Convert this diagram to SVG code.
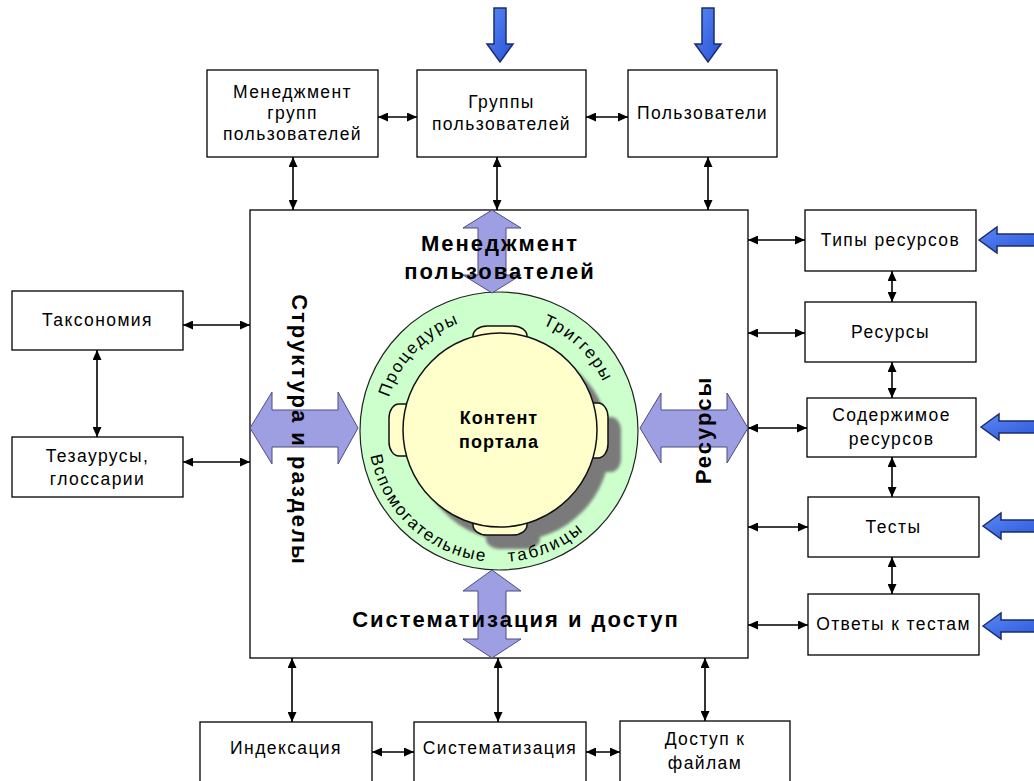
<svg xmlns="http://www.w3.org/2000/svg" width="1034" height="781" viewBox="0 0 1034 781">
  <defs>
    <style>
      .box { fill: #ffffff; stroke: #000000; stroke-width: 1.3; }
      .lbl { font-family: "Liberation Sans", Arial, sans-serif; font-size: 17.5px; letter-spacing: 1.4px; text-anchor: middle; fill: #000000; }
      .big { font-family: "Liberation Sans", Arial, sans-serif; font-size: 22px; font-weight: bold; letter-spacing: 2px; text-anchor: middle; fill: #000000; }
      .core { font-family: "Liberation Sans", Arial, sans-serif; font-size: 18px; font-weight: bold; letter-spacing: 1px; text-anchor: middle; fill: #000000; }
      .ring { font-family: "Liberation Sans", Arial, sans-serif; font-size: 17px; fill: #000000; }
      .conn { stroke: #000000; stroke-width: 1.6; fill: none; marker-start: url(#tip); marker-end: url(#tip); }
      .lav { fill: #9e9ee2; stroke: #4d4d80; stroke-width: 1; }
      .blue { fill: url(#blueGrad); stroke: #1c2c6c; stroke-width: 1.5; }
      .seat { fill: #ffffcc; stroke: #111111; stroke-width: 1.5; }
    </style>
    <marker id="tip" viewBox="0 0 10 9" refX="10" refY="4.5" markerWidth="10" markerHeight="9" markerUnits="userSpaceOnUse" orient="auto-start-reverse">
      <path d="M0,0 L10,4.5 L0,9 Z" fill="#000000"/>
    </marker>
    <linearGradient id="blueGrad" x1="0" y1="0" x2="1" y2="1">
      <stop offset="0" stop-color="#5b88f4"/>
      <stop offset="1" stop-color="#2552d6"/>
    </linearGradient>
    <filter id="soft" x="-20%" y="-20%" width="140%" height="140%">
      <feGaussianBlur stdDeviation="1.5"/>
    </filter>
    <!-- blue input arrows, tip at the origin -->
    <path id="blueDown" d="M-6,-54 L6,-54 L6,-18 L13,-18 L0,0 L-13,-18 L-6,-18 Z"/>
    <path id="blueLeft" d="M0,0 L18,-13 L18,-6 L70,-6 L70,6 L18,6 L18,13 Z"/>
    <!-- text arcs around the central ring -->
    <path id="arcTop" d="M384,431 A115,115 0 0 1 614,431"/>
    <path id="arcBot" d="M368,431 A131,131 0 0 0 630,431"/>
  </defs>

  <rect width="1034" height="781" fill="#ffffff"/>

  <!-- central portal block -->
  <g id="portal">
    <rect class="box" x="250" y="210" width="498" height="448" stroke-width="1.5"/>
    <circle cx="499" cy="431" r="139" fill="#ccffcc" stroke="#222222" stroke-width="1.2"/>
    <g fill="#7a7a7a" filter="url(#soft)" transform="translate(13,14)">
      <circle cx="500" cy="430" r="97"/>
      <rect x="580" y="403" width="28" height="55" rx="10" ry="14"/>
      <rect x="473" y="505" width="54" height="30" rx="14" ry="10"/>
    </g>
    <rect class="seat" x="473" y="326" width="54" height="30" rx="14" ry="10"/>
    <rect class="seat" x="473" y="505" width="54" height="30" rx="14" ry="10"/>
    <rect class="seat" x="389" y="404" width="30" height="52" rx="10" ry="14"/>
    <rect class="seat" x="580" y="403" width="28" height="55" rx="10" ry="14"/>
    <circle cx="500" cy="430" r="97" fill="#ffffcc" stroke="#111111" stroke-width="1.5"/>
    <text class="core" x="499" y="424">Контент</text>
    <text class="core" x="499" y="448">портала</text>
    <text class="ring" letter-spacing="1.9"><textPath href="#arcTop" startOffset="34">Процедуры</textPath></text>
    <text class="ring" letter-spacing="1.9"><textPath href="#arcTop" startOffset="225">Триггеры</textPath></text>
    <text class="ring" letter-spacing="1.8"><textPath href="#arcBot" startOffset="25">Вспомогательные</textPath></text>
    <text class="ring" letter-spacing="2.4"><textPath href="#arcBot" startOffset="215">таблицы</textPath></text>

    <!-- double arrows between the ring and the block edges -->
    <path class="lav" d="M492,210 L521,228 L506,228 L506,275 L521,275 L492,293 L463,275 L478,275 L478,228 L463,228 Z"/>
    <path class="lav" d="M492,570 L521,591 L506,591 L506,639 L521,639 L492,658 L463,639 L478,639 L478,591 L463,591 Z"/>
    <path class="lav" d="M250,428 L272,392 L272,410 L338,410 L338,392 L358,428 L338,464 L338,447 L272,447 L272,464 Z"/>
    <path class="lav" d="M640,428 L661,393 L661,410 L727,410 L727,393 L748,428 L727,463 L727,447 L661,447 L661,463 Z"/>

    <text class="big" x="500" y="251">Менеджмент</text>
    <text class="big" x="500" y="279">пользователей</text>
    <text class="big" x="516" y="627">Систематизация и доступ</text>
    <text class="big" transform="translate(292,430) rotate(90)">Структура и разделы</text>
    <text class="big" transform="translate(711,430) rotate(-90)">Ресурсы</text>
  </g>

  <!-- upper row -->
  <g id="group-management">
    <rect class="box" x="207" y="70" width="171" height="87"/>
    <text class="lbl" x="292.5" y="98">Менеджмент</text>
    <text class="lbl" x="292.5" y="119">групп</text>
    <text class="lbl" x="292.5" y="140">пользователей</text>
  </g>
  <g id="user-groups">
    <rect class="box" x="417" y="70" width="169" height="87"/>
    <text class="lbl" x="501.5" y="108">Группы</text>
    <text class="lbl" x="501.5" y="130">пользователей</text>
  </g>
  <g id="users">
    <rect class="box" x="628" y="70" width="149" height="87"/>
    <text class="lbl" x="702.5" y="119">Пользователи</text>
  </g>

  <!-- left column -->
  <g id="taxonomy">
    <rect class="box" x="12" y="291" width="171" height="59"/>
    <text class="lbl" x="97.5" y="326">Таксономия</text>
  </g>
  <g id="thesauri">
    <rect class="box" x="12" y="437" width="171" height="60"/>
    <text class="lbl" x="97.5" y="462">Тезаурусы,</text>
    <text class="lbl" x="97.5" y="485">глоссарии</text>
  </g>

  <!-- right column -->
  <g id="resource-types">
    <rect class="box" x="805" y="210" width="171" height="61"/>
    <text class="lbl" x="890.5" y="246">Типы ресурсов</text>
  </g>
  <g id="resources">
    <rect class="box" x="805" y="302" width="171" height="60"/>
    <text class="lbl" x="890.5" y="338">Ресурсы</text>
  </g>
  <g id="resource-content">
    <rect class="box" x="807" y="398" width="169" height="59"/>
    <text class="lbl" x="891.5" y="421">Содержимое</text>
    <text class="lbl" x="891.5" y="445">ресурсов</text>
  </g>
  <g id="tests">
    <rect class="box" x="808" y="497" width="171" height="60"/>
    <text class="lbl" x="893.5" y="533">Тесты</text>
  </g>
  <g id="test-answers">
    <rect class="box" x="808" y="594" width="171" height="61"/>
    <text class="lbl" x="893.5" y="630">Ответы к тестам</text>
  </g>

  <!-- bottom row -->
  <g id="indexing">
    <rect class="box" x="200" y="722" width="172" height="70"/>
    <text class="lbl" x="286" y="754">Индексация</text>
  </g>
  <g id="systematization">
    <rect class="box" x="414" y="722" width="172" height="70"/>
    <text class="lbl" x="500" y="754">Систематизация</text>
  </g>
  <g id="file-access">
    <rect class="box" x="620" y="721" width="170" height="70"/>
    <text class="lbl" x="705" y="745">Доступ к</text>
    <text class="lbl" x="705" y="769">файлам</text>
  </g>

  <!-- connectors -->
  <g id="connectors">
    <line class="conn" x1="378" y1="117" x2="417" y2="117"/>
    <line class="conn" x1="586" y1="117" x2="628" y2="117"/>
    <line class="conn" x1="293" y1="157" x2="293" y2="210"/>
    <line class="conn" x1="497" y1="157" x2="497" y2="210"/>
    <line class="conn" x1="708" y1="157" x2="708" y2="210"/>

    <line class="conn" x1="183" y1="325" x2="250" y2="325"/>
    <line class="conn" x1="183" y1="462" x2="250" y2="462"/>
    <line class="conn" x1="97" y1="350" x2="97" y2="437"/>

    <line class="conn" x1="748" y1="240" x2="805" y2="240"/>
    <line class="conn" x1="748" y1="333" x2="805" y2="333"/>
    <line class="conn" x1="748" y1="428" x2="807" y2="428"/>
    <line class="conn" x1="748" y1="527" x2="808" y2="527"/>
    <line class="conn" x1="748" y1="625" x2="808" y2="625"/>
    <line class="conn" x1="892" y1="271" x2="892" y2="302"/>
    <line class="conn" x1="892" y1="362" x2="892" y2="398"/>
    <line class="conn" x1="892" y1="457" x2="892" y2="497"/>
    <line class="conn" x1="892" y1="557" x2="892" y2="594"/>

    <line class="conn" x1="292" y1="658" x2="292" y2="722"/>
    <line class="conn" x1="498" y1="658" x2="498" y2="722"/>
    <line class="conn" x1="705" y1="658" x2="705" y2="721"/>
    <line class="conn" x1="372" y1="752" x2="414" y2="752"/>
    <line class="conn" x1="586" y1="752" x2="620" y2="752"/>

    <!-- external inputs -->
    <use href="#blueDown" class="blue" x="500" y="62"/>
    <use href="#blueDown" class="blue" x="708" y="62"/>
    <use href="#blueLeft" class="blue" x="979" y="240"/>
    <use href="#blueLeft" class="blue" x="981" y="427"/>
    <use href="#blueLeft" class="blue" x="983" y="526"/>
    <use href="#blueLeft" class="blue" x="983" y="626"/>
  </g>
</svg>
